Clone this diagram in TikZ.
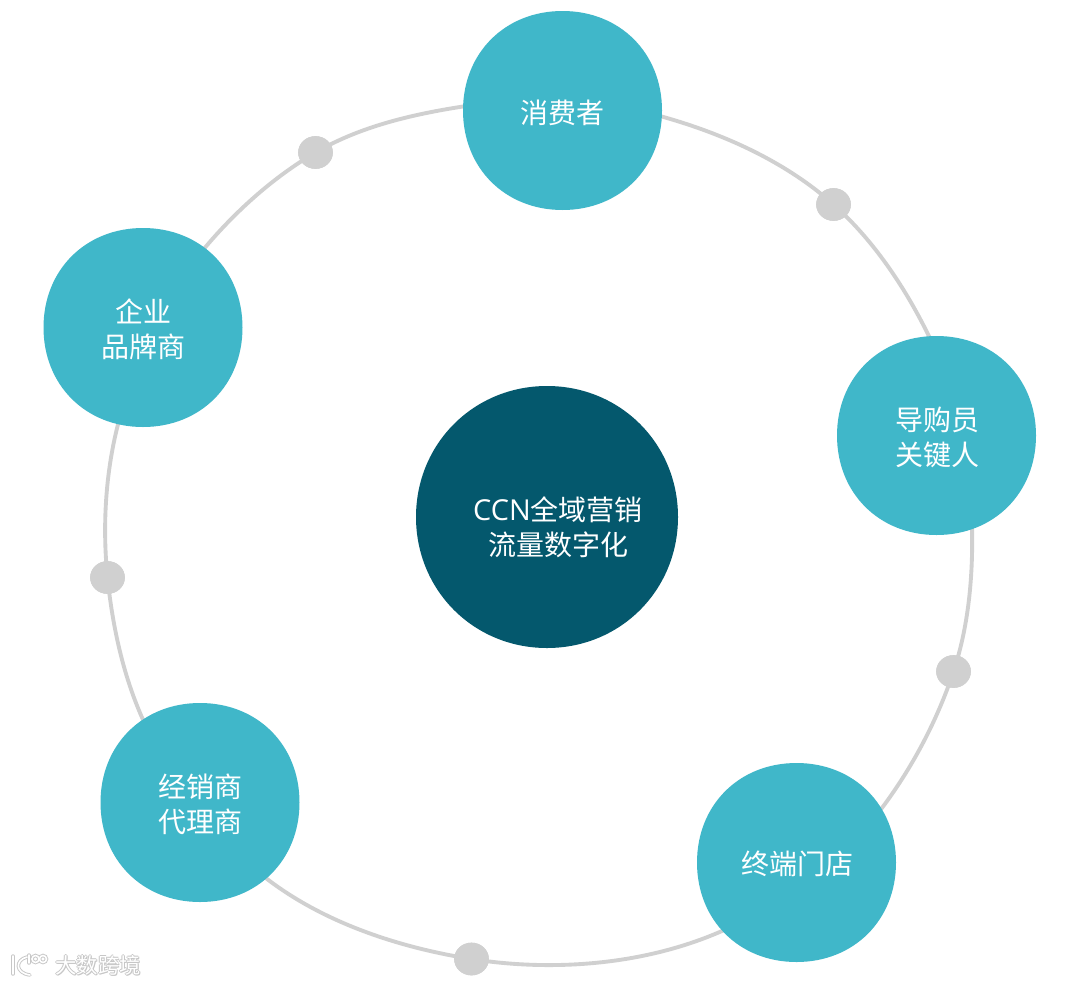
\documentclass[tikz,border=0pt]{standalone}
\usepackage{fontspec}
\setmainfont{Open Sans}
\newfontfamily\cjk{Noto Sans CJK SC}
\definecolor{teal1}{HTML}{40B7C9}
\definecolor{navy1}{HTML}{04586D}
\definecolor{ringg}{HTML}{D0D0D0}
\newcommand{\squircle}[5]{% x, y, r, colour, kappa
  \pgfmathsetmacro{\kk}{#3*#5}
  \fill[#4] (#1+#3,#2) .. controls (#1+#3,#2+\kk) and (#1+\kk,#2+#3) .. (#1,#2+#3)
    .. controls (#1-\kk,#2+#3) and (#1-#3,#2+\kk) .. (#1-#3,#2)
    .. controls (#1-#3,#2-\kk) and (#1-\kk,#2-#3) .. (#1,#2-#3)
    .. controls (#1+\kk,#2-#3) and (#1+#3,#2-\kk) .. (#1+#3,#2) -- cycle;}
\newcommand{\ringpt}[2]{%
  \coordinate (#1) at ({539+(436.5-3.5*cos(4*(#2)))*cos(#2)},{533.5-(436.5-3.5*cos(4*(#2)))*sin(#2)});}
\tikzset{
  x=0.75pt,y=-0.75pt,
  ringline/.style={draw=ringg,line width=2.9pt},
  blobtext/.style={text=white,align=center,font=\fontsize{21}{26.25}\selectfont\cjk,inner sep=0pt},
  dotnode/.style={ellipse,fill=ringg,minimum width=26pt,minimum height=24.5pt,inner sep=0pt},
  markgray/.style={draw=black!22,line width=2.6pt,line cap=round},
  markwhite/.style={draw=white,line width=1.2pt,line cap=round},
  wmark/.style={inner sep=0pt,font=\fontsize{16}{16}\selectfont\cjk},
}
\usetikzlibrary{shapes.geometric}
\begin{document}
\begin{tikzpicture}
\useasboundingbox (0,0) rectangle (1080,985);
\fill[white] (0,0) rectangle (1080,985);
% ring coordinates
\ringpt{a1}{76}
\ringpt{a2}{24}
\ringpt{b1}{2}
\ringpt{b2}{-41}
\ringpt{c1}{-62}
\ringpt{c2}{-130}
\ringpt{e1}{-152}
\ringpt{e2}{-196}
\ringpt{f1}{-218}
\ringpt{f2}{-262}
% dots
\node[dotnode] (d1) at (833.5,204.5) {};
\node[dotnode] (d2) at (953.5,671.5) {};
\node[dotnode] (d3) at (471.5,959) {};
\node[dotnode] (d4) at (107.5,577.5) {};
\node[dotnode] (d5) at (315.5,152.5) {};
% ring
\begin{scope}[looseness=0.85]
\draw[ringline] (a1) to[out=-14,in=138.2] (d1.center) to[out=-41.8,in=114] (a2);
\draw[ringline] (b1) to[out=-88,in=71.6] (d2.center) to[out=-108.4,in=51] (b2);
\draw[ringline] (c1) to[out=-152,in=-9] (d3.center) to[out=171,in=-40] (c2);
\draw[ringline] (e1) to[out=-242,in=-84.2] (d4.center) to[out=95.8,in=-106] (e2);
\draw[ringline] (f1) to[out=-308,in=-149.6] (d5.center) to[out=30.4,in=-172] (f2);
\end{scope}
\node[dotnode] at (d1) {};
\node[dotnode] at (d2) {};
\node[dotnode] at (d3) {};
\node[dotnode] at (d4) {};
\node[dotnode] at (d5) {};
% blobs
\squircle{562.5}{110.5}{99.5}{teal1}{0.578}
\squircle{936.5}{435.5}{99.5}{teal1}{0.578}
\squircle{796.5}{862.5}{99.5}{teal1}{0.578}
\squircle{200}{802.5}{99.5}{teal1}{0.578}
\squircle{143}{327.5}{99.5}{teal1}{0.578}
\squircle{547}{517}{131}{navy1}{0.56}
\node[blobtext] (n1) at (562.5,113) {消费者};
\node[blobtext] (n2) at (937,437.5) {导购员\\关键人};
\node[blobtext] (n3) at (797,864) {终端门店};
\node[blobtext] (n4) at (200,804.5) {经销商\\代理商};
\node[blobtext] (n5) at (143,329.5) {企业\\品牌商};
\node[blobtext] (n0) at (558,527.5) {{\fontspec[Scale=1.03]{Open Sans}CCN}全域营销\\流量数字化};
% watermark
\foreach \s in {markgray,markwhite}{
  \draw[\s] (13,956) -- (13,974);
  \draw[\s] (27,957) .. controls (15,960) and (15,973) .. (30,975);
  \draw[\s] (29,955) -- (29,963);
  \draw[\s] (35.5,959) circle[radius=3.5];
  \draw[\s] (43,959) circle[radius=3.5];
}
\foreach \dx/\dy in {-0.9/0,0.9/0,0/-0.9,0/0.9,1/1}{
  \node[wmark,text=black!22] at (98+\dx,965+\dy) {大数跨境};
}
\node[wmark,text=white] (w1) at (98,965) {大数跨境};
\end{tikzpicture}
\end{document}
